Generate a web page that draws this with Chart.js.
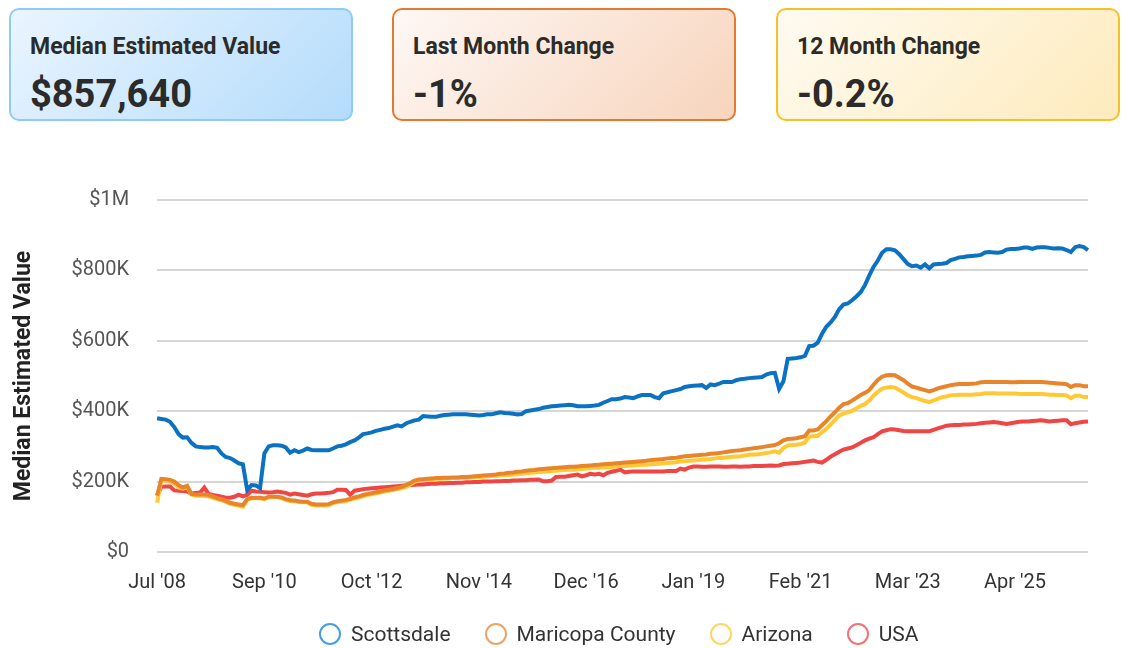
<!DOCTYPE html>
<html>
<head>
<meta charset="utf-8">
<script src="https://cdn.jsdelivr.net/npm/chart.js@4.4.1/dist/chart.umd.min.js"></script>
<style>
  html, body { margin: 0; padding: 0; background: #fff; font-family: Roboto, sans-serif; }
  body { width: 1127px; height: 648px; position: relative; overflow: hidden; }
  .card { position: absolute; top: 8px; width: 344px; height: 113px; box-sizing: border-box; border: 2px solid; border-radius: 10px; color: #2b2b2b; }
  .card .title { position: absolute; left: 19px; top: 23px; font-weight: 700; font-size: 23px; }
  .card .value { position: absolute; left: 19px; top: 62px; font-weight: 700; font-size: 38px; }
  #c1 { left: 9px; border-color: #8ecbf7; background: linear-gradient(135deg, #eaf5ff 0%, #b4dcfb 100%); }
  #c2 { left: 392px; border-color: #e8782e; background: linear-gradient(135deg, #fef8f5 0%, #f7d4bc 100%); }
  #c3 { left: 776px; border-color: #f6c125; background: linear-gradient(135deg, #fffbf1 0%, #feebbd 100%); }
  #wrap { position: absolute; left: 0; top: 160px; width: 1127px; height: 488px; }
  #legend { position: absolute; left: 319px; top: 622px; display: flex; align-items: center; font-size: 21px; color: #333; white-space: nowrap; }
  #legend .item { display: flex; align-items: center; margin-right: 34px; }
  #legend .dot { width: 18px; height: 18px; border: 2px solid; border-radius: 50%; margin-right: 10px; }
</style>
</head>
<body>
<div class="card" id="c1"><div class="title">Median Estimated Value</div><div class="value">$857,640</div></div>
<div class="card" id="c2"><div class="title">Last Month Change</div><div class="value">-1%</div></div>
<div class="card" id="c3"><div class="title">12 Month Change</div><div class="value">-0.2%</div></div>
<div id="wrap"><canvas id="valueChart"></canvas></div>
<div id="legend"></div>
<script>
// Valores en miles de dólares, un punto por mes
const scottsdale = [
  380,378,376,370,355,335,325,326,310,300, 298,297,297,298,296,280,270,267,260,252,
  249,176,190,189,182,280,300,303,303,302, 297,282,289,284,288,294,290,289,289,289,
  289,294,300,302,306,312,317,325,335,337, 340,344,347,350,352,356,360,357,365,370,
  374,376,386,385,384,384,387,389,390,391, 391,391,391,390,389,388,389,391,391,394,
  397,395,394,393,391,392,400,402,404,406, 410,412,414,415,416,417,418,417,414,414,
  414,415,416,418,424,429,434,434,436,440, 439,437,442,446,446,446,440,437,451,454,
  457,460,463,469,471,472,473,474,466,476, 474,478,483,483,483,488,491,492,494,495,
  496,497,504,508,509,463,485,549,550,551, 553,557,585,586,595,620,640,652,668,690,
  703,706,715,726,738,758,785,810,828,850, 860,860,857,846,832,818,812,814,808,817,
  806,817,818,819,821,829,833,837,838,840, 841,842,844,851,852,851,850,852,859,861,
  861,862,865,865,861,865,866,866,864,862, 863,862,858,852,866,869,866,857.64
]
const maricopa = [
  160,208,207,205,200,190,183,188,165,163, 163,163,162,158,153,150,145,140,137,135,
  133,150,154,154,154,152,157,157,157,155, 150,147,146,144,143,143,137,135,135,135,
  136,141,144,146,148,151,155,158,162,165, 167,170,172,175,177,179,182,185,190,196,
  203,206,207,208,209,210,210,211,211,212, 212,213,213,214,215,216,217,218,219,220,
  222,223,225,226,228,229,231,232,233,235, 236,237,238,239,240,241,242,242,243,244,
  245,246,247,248,249,250,251,252,253,254, 255,256,257,258,259,261,262,263,264,266,
  267,268,270,272,273,274,275,276,277,279, 280,281,283,285,287,288,289,291,293,295,
  296,298,300,302,304,309,317,321,322,323, 326,329,345,345,348,360,372,385,397,410,
  420,423,430,438,446,452,460,475,489,498, 502,503,502,495,488,478,470,467,463,460,
  456,460,465,468,471,474,476,477,477,477, 478,479,482,483,483,483,483,483,483,482,
  482,483,483,483,483,483,483,482,481,480, 479,478,477,469,474,474,471,471
]
const arizona = [
  140,205,203,200,195,183,180,183,163,160, 160,159,158,154,150,147,142,137,134,132,
  128,148,153,153,153,150,155,156,156,153, 148,145,144,142,141,141,134,132,132,132,
  133,139,142,143,145,148,152,155,158,162, 164,167,169,172,174,176,179,181,185,192,
  199,203,205,206,207,208,208,209,209,210, 210,211,211,212,213,213,214,215,216,216,
  217,218,219,220,221,222,224,225,226,227, 228,229,230,231,232,233,234,234,235,236,
  237,238,239,239,240,241,242,243,244,244, 245,246,247,248,248,249,250,251,252,253,
  254,255,257,258,259,260,261,262,263,264, 266,267,268,269,270,271,272,274,276,277,
  278,279,281,283,286,282,295,303,304,305, 307,311,328,329,330,340,350,362,375,388,
  393,397,401,408,415,420,430,444,455,464, 467,469,467,460,453,445,440,437,433,429,
  426,431,435,440,442,445,446,447,447,447, 447,448,449,451,451,451,450,450,450,450,
  450,449,449,449,449,449,449,448,447,447, 446,446,445,437,444,444,440,440
]
const usa = [
  160,185,186,186,175,174,173,172,166,168, 169,183,165,162,160,157,154,154,157,163,
  158,162,174,172,171,170,169,170,172,170, 168,163,166,164,162,160,164,166,166,167,
  168,170,177,177,176,163,174,176,178,180, 181,182,183,184,185,186,187,188,189,190,
  191,192,192,193,194,194,195,195,196,196, 197,197,198,198,199,199,200,200,200,201,
  201,202,202,203,203,204,204,205,205,206, 201,201,203,213,214,214,216,218,220,215,
  218,222,220,222,218,225,228,231,234,226, 228,229,229,229,229,229,229,229,229,230,
  230,230,237,234,240,243,243,242,242,243, 243,243,242,242,243,243,242,243,243,244,
  244,244,245,246,245,246,250,251,252,253, 254,256,258,260,256,254,262,271,278,285,
  291,294,297,303,310,317,322,326,335,343, 346,349,348,346,344,343,343,343,343,343,
  343,347,351,355,359,360,361,361,362,362, 363,364,366,367,368,369,368,366,364,366,
  368,370,371,371,372,373,374,373,371,372, 373,374,374,363,366,368,370,371
]

const seriesNames = ['Scottsdale', 'Maricopa County', 'Arizona', 'USA']
const seriesColors = ['#0b72c3', '#e8852a', '#ffc835', '#ef4545']
const legendColors = ['#4a9de0', '#eba467', '#ffd565', '#f07474']
const yTicks = [0, 200000, 400000, 600000, 800000, 1000000]
const tickEvery = 25

// Etiquetas mensuales desde Jul '08 (falta un mes en 2009)
const monthNames = ['Jan','Feb','Mar','Apr','May','Jun','Jul','Aug','Sep','Oct','Nov','Dec']
const months = []
let year = 2008, month = 6
while (months.length < scottsdale.length) {
  if (!(year === 2009 && month === 5)) {
    months.push(`${monthNames[month]} '${String(year).slice(2)}`)
  }
  month++
  if (month === 12) { month = 0; year++ }
}

const formatMoney = (v) => {
  if (v >= 1000000) return '$' + (v / 1000000) + 'M'
  if (v >= 1000) return '$' + (v / 1000) + 'K'
  return '$' + v
}

// Leyenda en HTML
const buildLegend = () => {
  const legend = document.querySelector('#legend')
  seriesNames.forEach((name, i) => {
    const item = document.createElement('div')
    item.className = 'item'
    item.innerHTML = `<span class="dot" style="border-color:${legendColors[i]}"></span><span>${name}</span>`
    legend.appendChild(item)
  })
}

const valueChart = () => {
  const canvas = document.querySelector('#valueChart')
  const allSeries = [scottsdale, maricopa, arizona, usa]

  new Chart(canvas, {
    type: 'line',
    data: {
      labels: months,
      datasets: allSeries.map((values, i) => ({
        label: seriesNames[i],
        data: values.map(v => v * 1000),
        borderColor: seriesColors[i],
        backgroundColor: 'transparent',
        borderWidth: 4,
        pointRadius: 0,
        tension: 0,
      })),
    },
    options: {
      responsive: true,
      maintainAspectRatio: false,
      animation: false,
      layout: { padding: { top: 28, right: 39, left: 6, bottom: 42 } },
      plugins: {
        tooltip: { enabled: false },
        legend: { display: false },
      },
      scales: {
        x: {
          grid: { display: false },
          border: { display: false },
          ticks: {
            autoSkip: false,
            maxRotation: 0,
            padding: 11,
            color: '#333',
            font: { family: 'Roboto', size: 20 },
            callback: (val, index) => index % tickEvery === 0 ? months[index] : null,
          },
        },
        y: {
          min: 0,
          max: 1000000,
          afterBuildTicks: (axis) => { axis.ticks = yTicks.map(v => ({ value: v })) },
          grid: { color: '#d6d6d6', lineWidth: 2, drawTicks: false },
          border: { display: false },
          ticks: {
            padding: 28,
            color: '#555',
            font: { family: 'Roboto', size: 20 },
            callback: (v) => formatMoney(v),
          },
          title: {
            display: true,
            text: 'Median Estimated Value',
            color: '#222',
            font: { family: 'Roboto', size: 23, weight: 'bold' },
            padding: { bottom: 6 },
          },
        },
      },
    },
  })
}

buildLegend()
valueChart()
</script>
</body>
</html>
